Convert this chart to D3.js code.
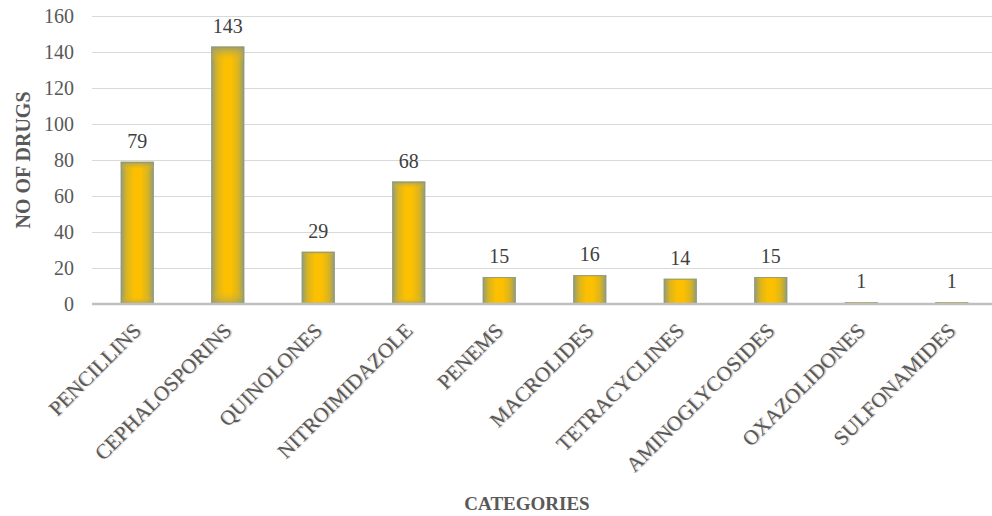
<!DOCTYPE html>
<html>
<head>
<meta charset="utf-8">
<script src="https://cdn.jsdelivr.net/npm/d3@7"></script>
<style>
  html, body { margin: 0; padding: 0; background: #fff; }
</style>
</head>
<body>
<svg id="chart" width="992" height="516"></svg>
<script>
// Antibiotic categories and number of drugs in each
const categories = ["PENCILLINS", "CEPHALOSPORINS", "QUINOLONES", "NITROIMIDAZOLE", "PENEMS",
  "MACROLIDES", "TETRACYCLINES", "AMINOGLYCOSIDES", "OXAZOLIDONES", "SULFONAMIDES"];
const drugCounts = [79, 143, 29, 68, 15, 16, 14, 15, 1, 1];
const yTicks = [0, 20, 40, 60, 80, 100, 120, 140, 160];
const yTitle = "NO OF DRUGS";
const xTitle = "CATEGORIES";

const FONT = '"Liberation Serif", "Times New Roman", Tinos, serif';
const svg = d3.select("#chart");
const margin = { left: 92, top: 16, right: -5, bottom: 212 };
const W = 992, H = 516;
const plotW = W - margin.left - margin.right;
const plotH = H - margin.top - margin.bottom;

const x = d3.scaleBand().domain(categories).range([margin.left, margin.left + plotW]).paddingInner(0.635).paddingOuter(0.3175);
const y = d3.scaleLinear().domain([0, 160]).range([margin.top + plotH, margin.top]);

// Bar fill: gold centre fading to a grey-green edge
const defs = svg.append("defs");
const grad = defs.append("linearGradient").attr("id", "barFill").attr("x1", "0").attr("x2", "1").attr("y1", "0").attr("y2", "0");
[[0, "#8e9a7c"], [0.18, "#d9b421"], [0.4, "#fcc000"], [0.6, "#fcc000"], [0.82, "#d9b421"], [1, "#8e9a7c"]]
  .forEach(([o, c]) => grad.append("stop").attr("offset", o).attr("stop-color", c));
const gradV = defs.append("linearGradient").attr("id", "barEdge").attr("x1", "0").attr("x2", "0").attr("y1", "0").attr("y2", "1");
[[0, "#8e9a7c", 0.9], [0.06, "#fcc000", 0], [0.94, "#fcc000", 0], [1, "#8e9a7c", 0.6]]
  .forEach(([o, c, a]) => gradV.append("stop").attr("offset", o).attr("stop-color", c).attr("stop-opacity", a));

// Gridlines and y tick labels
const yAxis = d3.axisLeft(y).tickValues(yTicks).tickSize(-plotW).tickPadding(18).tickFormat(d3.format("d"));
const gy = svg.append("g").attr("transform", `translate(${margin.left},0)`).call(yAxis);
gy.select(".domain").remove();
gy.selectAll(".tick line").attr("stroke", "#d9d9d9").attr("stroke-width", 1);
gy.selectAll(".tick text").attr("fill", "#595959")
  .style("font-family", FONT).style("font-size", "20px");

// Bars
svg.append("g").selectAll("g.bar").data(categories).join("g").each(function (c, i) {
  const g = d3.select(this);
  const bx = x(c), bw = x.bandwidth(), by = y(drugCounts[i]), bh = y(0) - y(drugCounts[i]);
  if (bh <= 0.5) return;
  g.append("rect").attr("x", bx).attr("y", by).attr("width", bw).attr("height", bh).attr("fill", "url(#barFill)");
  g.append("rect").attr("x", bx).attr("y", by).attr("width", bw).attr("height", bh).attr("fill", "url(#barEdge)");
  g.append("rect").attr("x", bx + 0.5).attr("y", by + 0.5).attr("width", bw - 1).attr("height", bh - 1)
    .attr("fill", "none").attr("stroke", "#8a9784").attr("stroke-width", 1).attr("stroke-opacity", 0.7);
});

// Baseline
svg.append("line").attr("x1", margin.left).attr("x2", W).attr("y1", y(0)).attr("y2", y(0))
  .attr("stroke", "#bfbfbf").attr("stroke-width", 2.5);

// Value labels
svg.append("g").selectAll("text").data(categories).join("text")
  .attr("x", c => x(c) + x.bandwidth() / 2)
  .attr("y", (c, i) => y(drugCounts[i]) - 14)
  .attr("text-anchor", "middle").attr("fill", "#404040")
  .style("font-family", FONT).style("font-size", "20px")
  .text((c, i) => drugCounts[i]);

// Category labels, rotated
svg.append("g").selectAll("text").data(categories).join("text")
  .attr("transform", c => `translate(${x(c) + x.bandwidth() / 2 + 5},${y(0) + 28}) rotate(-45)`)
  .attr("text-anchor", "end").attr("fill", "#595959")
  .style("font-family", FONT).style("font-size", "21px")
  .style("text-shadow", "1px 1px 1px rgba(0,0,0,0.25)")
  .text(c => c);

// Axis titles
svg.append("text").attr("transform", `translate(30,${y(80)}) rotate(-90)`)
  .attr("text-anchor", "middle").attr("font-weight", "bold").attr("fill", "#595959")
  .style("font-family", FONT).style("font-size", "20px")
  .text(yTitle);
svg.append("text").attr("x", 527).attr("y", 510)
  .attr("text-anchor", "middle").attr("font-weight", "bold").attr("fill", "#595959")
  .style("font-family", FONT).style("font-size", "19px")
  .text(xTitle);
</script>
</body>
</html>
